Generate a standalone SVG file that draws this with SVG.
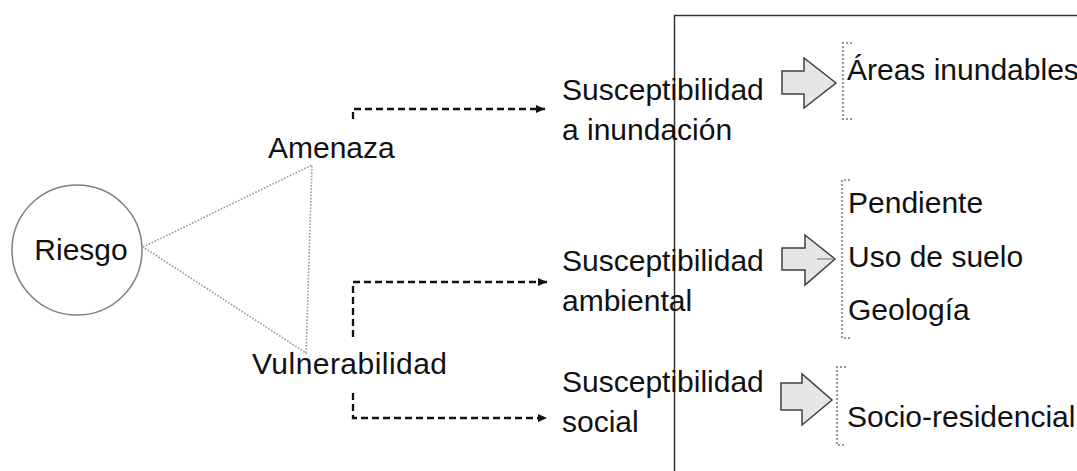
<svg xmlns="http://www.w3.org/2000/svg" width="1077" height="471" viewBox="0 0 1077 471">
<style>
.t{font-family:"Liberation Sans",Arial,sans-serif;font-size:30px;fill:#111}
.dash{fill:none;stroke:#111;stroke-width:2.3;stroke-dasharray:7 4}
.dot{fill:none;stroke:#999;stroke-width:1.6;stroke-dasharray:1.6 1.6}
.brk{fill:none;stroke:#999;stroke-width:2.2;stroke-dasharray:2 2}
.blk{fill:#e6e6e6;stroke:#404040;stroke-width:1.5;stroke-linejoin:miter}
</style>
<defs>
<marker id="ah" markerWidth="10" markerHeight="10" refX="9" refY="5" orient="auto" markerUnits="userSpaceOnUse">
<path d="M0,1 L9,5 L0,9 Z" fill="#111"/>
</marker>
</defs>
<rect width="1077" height="471" fill="#fff"/>
<rect x="674.5" y="15.5" width="600" height="600" fill="none" stroke="#333" stroke-width="1.5"/>

<g id="riesgo">
<circle cx="77" cy="250" r="65" fill="none" stroke="#808080" stroke-width="1.5"/>
<text class="t" x="81" y="260" text-anchor="middle">Riesgo</text>
</g>
<g id="triangle">
<path class="dot" d="M143,247 L312,165 L306,353 Z"/>
</g>
<g id="amenaza"><text class="t" x="268" y="158">Amenaza</text></g>
<g id="vulnerabilidad"><text class="t" x="252" y="374" textLength="195">Vulnerabilidad</text></g>

<g id="s-inundacion">
<text class="t" x="562" y="100">Susceptibilidad</text>
<text class="t" x="562" y="140">a inundación</text>
</g>
<g id="s-ambiental">
<text class="t" x="562" y="271">Susceptibilidad</text>
<text class="t" x="562" y="311">ambiental</text>
</g>
<g id="s-social">
<text class="t" x="562" y="392">Susceptibilidad</text>
<text class="t" x="562" y="432">social</text>
</g>

<g id="connectors">
<path class="dash" d="M353,119 V109 H545" marker-end="url(#ah)"/>
<path class="dash" d="M353,337 V282 H547" marker-end="url(#ah)"/>
<path class="dash" d="M353,393 V418 H547" marker-end="url(#ah)"/>
</g>

<g id="block-arrows">
<path class="blk" d="M782,71 H804 V58 L836,83 L804,108 V94 H782 Z"/>
<path class="blk" d="M782,248 H805 V235 L835,259 L805,285 V270 H782 Z"/>
<line x1="817" y1="259" x2="834" y2="259" stroke="#999" stroke-width="1.5"/>
<path class="blk" d="M781,383 H802 V374 L832,400 L802,425 V410 H781 Z"/>
</g>

<g id="bracket-1">
<path class="brk" d="M852,43 H843 V119 H852"/>
<text class="t" x="847" y="80">Áreas inundables</text>
</g>
<g id="bracket-2">
<path class="brk" d="M850,180 H842 V338 H850"/>
<text class="t" x="848" y="213">Pendiente</text>
<text class="t" x="848" y="267">Uso de suelo</text>
<text class="t" x="848" y="320">Geología</text>
</g>
<g id="bracket-3">
<path class="brk" d="M846,367 H837 V445 H846"/>
<text class="t" x="847" y="427">Socio-residencial</text>
</g>
</svg>
